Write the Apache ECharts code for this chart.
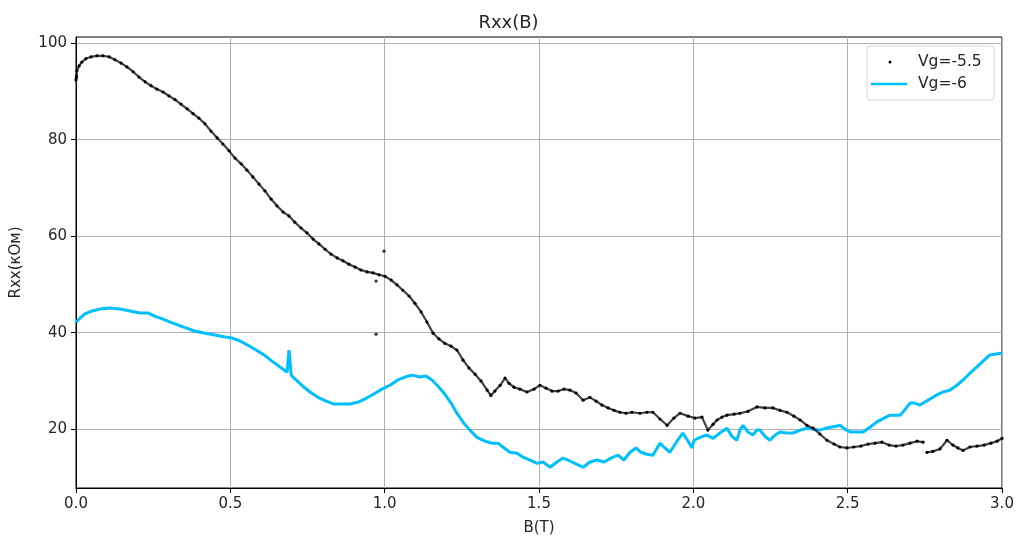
<!DOCTYPE html>
<html><head><meta charset="utf-8">
<script src="https://cdn.jsdelivr.net/npm/echarts@6/dist/echarts.min.js"></script>
<style>html,body{margin:0;padding:0;background:#fff}#c{width:1017px;height:544px}</style>
</head><body><div id="c"></div>
<script>
// B (T), Rxx (kOhm) for Vg=-5.5 (scatter)
const black = [
[0.000,92.4],[0.001,92.9],[0.002,93.2],[0.003,94.3],[0.010,95.3],[0.019,96.1],[0.032,96.8],[0.049,97.2],[0.068,97.4],[0.087,97.4],[0.107,97.2],
[0.126,96.6],[0.146,95.9],[0.165,95.1],[0.185,94.1],[0.204,93.0],[0.224,92.0],[0.243,91.2],[0.262,90.5],[0.282,89.9],[0.301,89.1],
[0.321,88.3],[0.340,87.4],[0.360,86.4],[0.379,85.4],[0.398,84.5],[0.418,83.3],[0.437,81.8],[0.457,80.4],[0.476,79.1],[0.496,77.7],
[0.515,76.2],[0.535,75.0],[0.554,73.7],[0.573,72.3],[0.593,70.8],[0.612,69.4],[0.632,67.7],[0.651,66.3],[0.671,65.0],[0.690,64.2],
[0.709,62.9],[0.729,61.7],[0.748,60.7],[0.768,59.4],[0.787,58.4],[0.807,57.3],[0.826,56.3],[0.846,55.5],[0.865,54.9],[0.884,54.2],
[0.904,53.6],[0.923,53.0],[0.943,52.6],[0.962,52.4],[0.982,52.0],[1.001,51.7],[1.021,50.9],[1.040,49.9],[1.059,48.8],[1.079,47.6],
[1.098,46.1],[1.118,44.3],[1.137,42.2],[1.157,39.9],[1.176,38.7],[1.195,37.8],[1.215,37.2],[1.234,36.4],[1.254,34.3],[1.273,32.7],
[1.293,31.4],[1.312,30.0],[1.332,28.1],[1.344,27.0],[1.357,27.9],[1.374,29.1],[1.390,30.6],[1.403,29.5],[1.419,28.7],[1.438,28.3],
[1.461,27.7],[1.484,28.3],[1.503,29.1],[1.523,28.5],[1.542,27.9],[1.562,27.9],[1.581,28.3],[1.600,28.1],[1.620,27.5],[1.643,26.0],
[1.665,26.6],[1.685,25.8],[1.704,25.0],[1.724,24.4],[1.743,23.9],[1.762,23.5],[1.782,23.3],[1.801,23.5],[1.827,23.3],[1.850,23.5],
[1.869,23.5],[1.892,22.1],[1.915,20.8],[1.937,22.3],[1.957,23.3],[1.983,22.7],[2.005,22.3],[2.028,22.5],[2.047,19.8],[2.064,21.0],
[2.077,21.9],[2.093,22.5],[2.109,22.9],[2.132,23.1],[2.151,23.3],[2.177,23.7],[2.206,24.6],[2.232,24.4],[2.258,24.4],[2.281,23.9],
[2.303,23.5],[2.326,22.7],[2.346,21.9],[2.368,20.8],[2.388,20.2],[2.410,19.0],[2.433,17.7],[2.456,16.9],[2.475,16.3],[2.498,16.1],
[2.520,16.3],[2.543,16.5],[2.566,16.9],[2.589,17.1],[2.611,17.3],[2.634,16.7],[2.657,16.5],[2.679,16.7],[2.702,17.1],[2.725,17.5],
[2.744,17.3],[2.750,'-'],[2.757,15.2],[2.776,15.4],[2.799,15.9],[2.822,17.7],[2.841,16.7],[2.857,16.1],[2.874,15.6],[2.896,16.3],
[2.919,16.5],[2.942,16.7],[2.964,17.1],[2.984,17.5],[3.000,18.1]
];
const blackOutliers = [[0.998,56.9],[0.972,39.7],[0.972,50.7]];
// B (T), Rxx (kOhm) for Vg=-6 (line)
const blue = [
[0.000,42.2],[0.013,43.0],[0.029,43.9],[0.052,44.5],[0.078,44.9],[0.110,45.1],[0.143,44.9],[0.175,44.5],[0.207,44.1],[0.233,44.1],
[0.256,43.4],[0.282,42.8],[0.305,42.2],[0.330,41.6],[0.356,41.0],[0.386,40.3],[0.418,39.9],[0.450,39.5],[0.483,39.1],[0.505,38.9],
[0.531,38.3],[0.557,37.4],[0.583,36.4],[0.609,35.4],[0.635,34.1],[0.661,32.9],[0.684,31.8],[0.690,36.4],[0.693,34.3],[0.697,31.2],
[0.713,30.2],[0.735,28.9],[0.758,27.7],[0.784,26.6],[0.810,25.8],[0.836,25.2],[0.862,25.2],[0.888,25.2],[0.914,25.6],[0.940,26.4],
[0.965,27.3],[0.991,28.3],[1.017,29.1],[1.043,30.2],[1.066,30.8],[1.089,31.2],[1.114,30.8],[1.134,31.0],[1.153,30.2],[1.173,28.9],
[1.192,27.5],[1.215,25.4],[1.234,23.3],[1.257,21.2],[1.276,19.8],[1.299,18.3],[1.325,17.5],[1.348,17.1],[1.367,17.1],[1.387,16.1],
[1.406,15.2],[1.429,15.0],[1.448,14.2],[1.471,13.6],[1.494,12.9],[1.513,13.2],[1.536,12.1],[1.558,13.2],[1.578,14.0],[1.600,13.4],
[1.623,12.7],[1.643,12.1],[1.665,13.2],[1.688,13.6],[1.711,13.2],[1.733,14.0],[1.756,14.6],[1.775,13.6],[1.795,15.2],[1.814,16.1],
[1.830,15.2],[1.850,14.8],[1.869,14.6],[1.892,17.1],[1.908,16.1],[1.924,15.2],[1.947,17.5],[1.966,19.2],[1.983,17.5],[1.996,16.1],
[2.002,17.7],[2.022,18.3],[2.044,18.8],[2.064,18.1],[2.086,19.2],[2.109,20.2],[2.125,18.5],[2.141,17.7],[2.151,19.8],[2.161,20.8],
[2.177,19.4],[2.193,18.8],[2.206,19.8],[2.216,19.8],[2.232,18.5],[2.248,17.7],[2.265,18.8],[2.281,19.4],[2.303,19.2],[2.323,19.2],
[2.346,19.8],[2.368,20.2],[2.391,20.0],[2.410,19.8],[2.430,20.2],[2.443,20.4],[2.462,20.6],[2.475,20.8],[2.491,20.0],[2.508,19.4],
[2.530,19.4],[2.550,19.4],[2.572,20.4],[2.595,21.5],[2.618,22.3],[2.637,22.9],[2.653,22.9],[2.670,22.9],[2.686,24.1],[2.702,25.4],
[2.718,25.4],[2.734,25.0],[2.760,26.0],[2.789,27.1],[2.809,27.7],[2.832,28.1],[2.854,29.1],[2.874,30.2],[2.896,31.6],[2.919,32.9],
[2.942,34.3],[2.961,35.4],[2.981,35.6],[3.000,35.8]
];
const yTicks = [20,40,60,80,100];
const xTicks = [0,0.5,1,1.5,2,2.5,3];
const seriesNames = ['Vg=-5.5','Vg=-6'];

const FONT = 'DejaVu Sans';
const TXT = '#262626';
const chart = echarts.init(document.getElementById('c'), null, {renderer:'canvas'});
chart.setOption({
  animation:false,
  backgroundColor:'#fff',
  textStyle:{fontFamily:FONT},
  title:{text:'Rxx(B)',left:'center',top:9,textStyle:{fontFamily:FONT,fontSize:18,fontWeight:'normal',color:TXT}},
  grid:{left:76,right:15,top:37,bottom:56,show:true,borderColor:'#000',borderWidth:1,backgroundColor:'transparent'},
  xAxis:{type:'value',min:0,max:3,interval:0.5,
    name:'B(T)',nameLocation:'middle',nameGap:33,nameTextStyle:{fontFamily:FONT,fontSize:15,color:TXT},
    axisLine:{lineStyle:{color:'#000',width:1}},
    axisTick:{show:true,length:5,lineStyle:{color:'#000'}},
    axisLabel:{fontFamily:FONT,fontSize:15,color:TXT,margin:9,formatter:v=>v.toFixed(1)},
    splitLine:{show:true,lineStyle:{color:'#b0b0b0',width:1}}},
  yAxis:{type:'value',min:7.8,max:101.3,
    name:'Rxx(кОм)',nameLocation:'middle',nameGap:52,nameTextStyle:{fontFamily:FONT,fontSize:15,color:TXT},
    axisLine:{show:true,lineStyle:{color:'#000',width:1}},
    axisTick:{show:true,length:5,lineStyle:{color:'#000'},customValues:yTicks},
    axisLabel:{fontFamily:FONT,fontSize:15,color:TXT,margin:9,customValues:yTicks},
    splitLine:{show:true,lineStyle:{color:'#b0b0b0',width:1}}},
  series:[
    {name:seriesNames[0],type:'line',data:black,symbol:'circle',symbolSize:3.2,showSymbol:true,
     connectNulls:false,itemStyle:{color:'#000'},lineStyle:{color:'#111',width:2.2,opacity:0.8},z:3},
    {name:seriesNames[0],type:'scatter',data:blackOutliers,symbol:'circle',symbolSize:3.2,itemStyle:{color:'#000'},z:3},
    {name:seriesNames[1],type:'line',data:blue,showSymbol:false,symbol:'none',
     lineStyle:{color:'#00bfff',width:3},itemStyle:{color:'#00bfff'},z:2}
  ],
  graphic:[
    {type:'rect',shape:{x:867,y:46,width:127,height:54,r:3},style:{fill:'rgba(255,255,255,0.85)',stroke:'#d4d4d4',lineWidth:1},z:10},
    {type:'circle',shape:{cx:890,cy:62,r:1.5},style:{fill:'#000'},z:11},
    {type:'line',shape:{x1:871,y1:84,x2:907,y2:84},style:{stroke:'#00bfff',lineWidth:2.4},z:11},
    {type:'text',x:918,y:62,style:{text:seriesNames[0],font:'15.5px "DejaVu Sans"',fill:TXT,textVerticalAlign:'middle',verticalAlign:'middle'},z:11},
    {type:'text',x:918,y:84,style:{text:seriesNames[1],font:'15.5px "DejaVu Sans"',fill:TXT,textVerticalAlign:'middle',verticalAlign:'middle'},z:11}
  ]
});
</script></body></html>
